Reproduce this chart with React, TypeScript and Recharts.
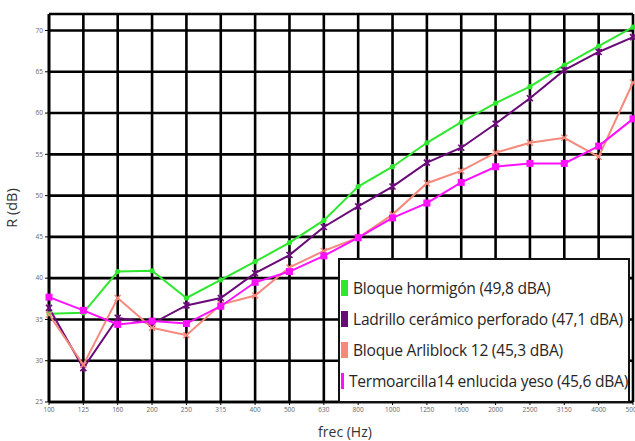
import React from 'react';
import { LineChart, Line, XAxis, YAxis, CartesianGrid, Legend } from 'recharts';

const freqs = ['100', '125', '160', '200', '250', '315', '400', '500', '630', '800', '1000', '1250', '1600', '2000', '2500', '3150', '4000', '5000'];
const hormigon = [35.7, 35.8, 40.8, 40.9, 37.6, 39.8, 42.0, 44.3, 47.0, 51.1, 53.5, 56.4, 58.9, 61.2, 63.2, 65.8, 68.1, 70.4];
const ladrillo = [36.4, 29.1, 35.2, 34.5, 36.7, 37.6, 40.6, 42.8, 46.2, 48.7, 51.1, 54.0, 55.8, 58.7, 61.8, 65.2, 67.4, 69.2];
const arliblock = [35.6, 29.5, 37.6, 34.0, 33.1, 36.8, 37.9, 41.3, 43.3, 44.9, 47.7, 51.5, 53.0, 55.2, 56.4, 57.0, 54.7, 63.7];
const termoarcilla = [37.7, 36.1, 34.4, 34.8, 34.5, 36.6, 39.5, 40.8, 42.7, 44.9, 47.3, 49.1, 51.6, 53.5, 53.9, 53.9, 56.0, 59.3];
const yTicks = [25, 30, 35, 40, 45, 50, 55, 60, 65, 70];

const series = [
  { key: 'hormigon', name: 'Bloque hormigón (49,8 dBA)', color: '#2ee82e', marker: 'dot' },
  { key: 'ladrillo', name: 'Ladrillo cerámico perforado (47,1 dBA)', color: '#6a0a78', marker: 'star' },
  { key: 'arliblock', name: 'Bloque Arliblock 12 (45,3 dBA)', color: '#f5897c', marker: 'cross' },
  { key: 'termoarcilla', name: 'Termoarcilla14 enlucida yeso (45,6 dBA)', color: '#ff10ff', marker: 'square' },
];

const data = freqs.map((f, i) => ({
  f,
  hormigon: hormigon[i],
  ladrillo: ladrillo[i],
  arliblock: arliblock[i],
  termoarcilla: termoarcilla[i],
}));

const makeDot = (marker: string, color: string) => (props: any) => {
  const { cx, cy, index } = props;
  if (cx == null || cy == null) return <g key={index} />;
  if (marker === 'square') {
    return <rect key={index} x={cx - 3.5} y={cy - 3.5} width={7} height={7} fill={color} />;
  }
  if (marker === 'cross') {
    return (
      <path key={index} d={`M${cx - 3},${cy - 3}L${cx + 3},${cy + 3}M${cx - 3},${cy + 3}L${cx + 3},${cy - 3}`}
        stroke={color} strokeWidth={1.5} />
    );
  }
  if (marker === 'star') {
    return (
      <g key={index}>
        <path d={`M${cx - 3},${cy - 3}L${cx + 3},${cy + 3}M${cx - 3},${cy + 3}L${cx + 3},${cy - 3}M${cx},${cy - 3.5}L${cx},${cy + 3.5}`}
          stroke={color} strokeWidth={1.6} />
      </g>
    );
  }
  return <circle key={index} cx={cx} cy={cy} r={2.6} fill={color} />;
};

const LegendBox = () => (
  <div style={{
    boxSizing: 'border-box', width: '100%', height: '100%', border: '2px solid #111',
    background: '#fff', paddingTop: 12, paddingLeft: 1,
  }}>
    {series.map((s) => (
      <div key={s.key} style={{ display: 'flex', alignItems: 'center', height: 31 }}>
        <div style={{ width: 7, height: 16, background: s.color, marginRight: 5 }} />
        <span style={{ fontSize: 15.6, color: '#262626', letterSpacing: -0.25, whiteSpace: 'nowrap' }}>{s.name}</span>
      </div>
    ))}
  </div>
);

export default function App() {
  return (
    <div style={{ position: 'absolute', left: 0, top: 0, width: 635, height: 441, overflow: 'hidden', background: '#fff', fontFamily: '"Open Sans", sans-serif' }}>
      <LineChart width={660} height={441} data={data} margin={{ top: 14, right: 27, left: 0, bottom: 0 }}>
        <CartesianGrid stroke="#000" strokeWidth={2.6} />
        <XAxis
          dataKey="f"
          interval={0}
          height={39}
          tick={{ fontSize: 6.5, fill: '#666' }}
          tickSize={3}
          tickLine={{ stroke: '#000' }}
          axisLine={{ stroke: '#000', strokeWidth: 2.6 }}
          label={{ value: 'frec (Hz)', position: 'insideBottom', offset: 4, dx: 4, style: { fontSize: 14, fill: '#333' } }}
        />
        <YAxis
          type="number"
          domain={[25, 72]}
          ticks={yTicks}
          width={49}
          allowDataOverflow
          tick={{ fontSize: 6.5, fill: '#666' }}
          tickSize={4}
          tickLine={{ stroke: '#000' }}
          axisLine={{ stroke: '#000', strokeWidth: 2.6 }}
          label={{ value: 'R (dB)', angle: -90, position: 'insideLeft', offset: 12, style: { fontSize: 14.5, fill: '#333', textAnchor: 'middle' } }}
        />
        <Legend
          layout="vertical"
          align="center"
          verticalAlign="middle"
          content={<LegendBox />}
          wrapperStyle={{ left: 338, top: 258, width: 292, height: 145 }}
        />
        {series.map((s) => (
          <Line
            key={s.key}
            type="linear"
            dataKey={s.key}
            name={s.name}
            stroke={s.color}
            strokeWidth={2}
            dot={makeDot(s.marker, s.color)}
            activeDot={false}
            isAnimationActive={false}
          />
        ))}
      </LineChart>
    </div>
  );
}
